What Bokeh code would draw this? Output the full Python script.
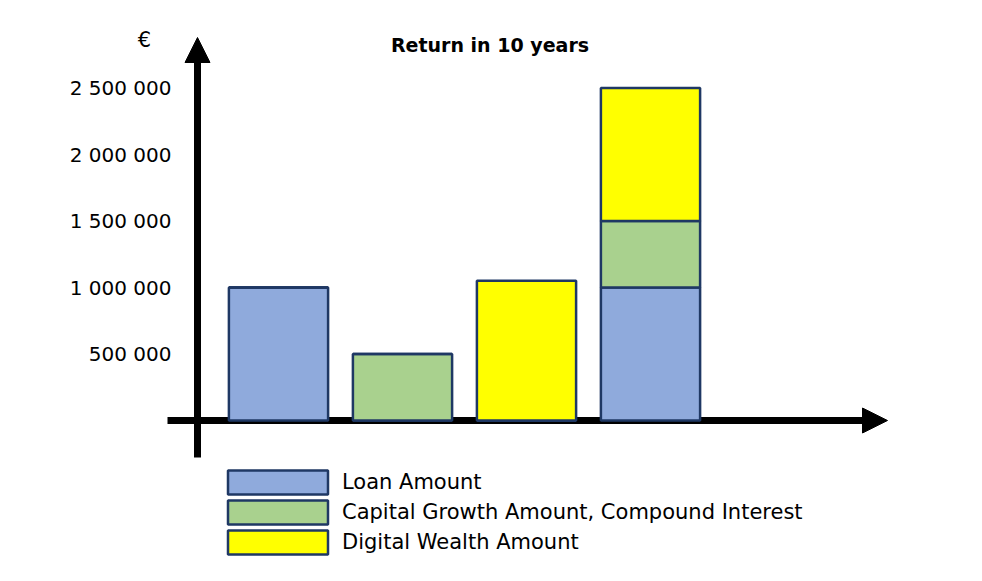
from bokeh.plotting import figure
from bokeh.models import ColumnDataSource, Legend, LegendItem, Arrow, NormalHead
from bokeh.core.properties import value
from bokeh.embed import file_html
from bokeh.resources import INLINE

# ---- data ----
positions = [1, 2, 3, 4]
loan_amount = [1_000_000, 0, 0, 1_000_000]
capital_growth = [0, 500_000, 0, 500_000]
digital_wealth = [0, 0, 1_050_000, 1_000_000]
series_names = ["Loan Amount", "Capital Growth Amount, Compound Interest", "Digital Wealth Amount"]
series_colors = ["#8FAADC", "#A9D18E", "#FFFF00"]
tick_values = [500_000, 1_000_000, 1_500_000, 2_000_000, 2_500_000]
tick_labels = ["500 000", "1 000 000", "1 500 000", "2 000 000", "2 500 000"]
title_text = "Return in 10 years"
unit_text = "€"

# ---- layout (pixels) ----
W, H = 966, 565
PX_PER_X = 124.0
X1_PX = 278.0            # px of first bar centre
ZERO_PY = 420.0          # px (from top) of value 0
PX_PER_MILLION = 133.0
U_PER_PX = 1_000_000 / PX_PER_MILLION

XS = positions[0] - X1_PX / PX_PER_X
XE = XS + W / PX_PER_X
YS = -(H - ZERO_PY) * U_PER_PX
YE = ZERO_PY * U_PER_PX


def sx(px):
    return XS + px / PX_PER_X


def sy(py):
    return (ZERO_PY - py) * U_PER_PX


p = figure(width=W, height=H, x_range=(XS, XE), y_range=(YS, YE),
           x_axis_type=None, y_axis_type=None, toolbar_location=None,
           output_backend="svg", min_border=0)
p.outline_line_color = None
p.background_fill_color = "white"
p.border_fill_color = "white"
p.xgrid.visible = False
p.ygrid.visible = False

# axes arrows
AX_COLOR = "black"
yax = Arrow(x_start=sx(197), y_start=sy(457), x_end=sx(197), y_end=sy(37),
            line_width=7, line_color=AX_COLOR,
            end=NormalHead(size=25, fill_color=AX_COLOR, line_color=AX_COLOR, line_width=1),
            level="underlay")
xax = Arrow(x_start=sx(167), y_start=0, x_end=sx(887), y_end=0,
            line_width=7, line_color=AX_COLOR,
            end=NormalHead(size=25, fill_color=AX_COLOR, line_color=AX_COLOR, line_width=1),
            level="underlay")
p.add_layout(yax)
p.add_layout(xax)

# bars
src = ColumnDataSource(dict(x=positions, loan=loan_amount, growth=capital_growth, digital=digital_wealth))
rs = p.vbar_stack(["loan", "growth", "digital"], x="x", width=0.8, source=src,
                  fill_color=series_colors, line_color="#1F3864", line_width=2.5)

# tick labels
tsrc = ColumnDataSource(dict(x=[sx(171)] * len(tick_values), y=tick_values, t=tick_labels))
p.text(x="x", y="y", text="t", source=tsrc, text_font=value("DejaVu Sans"),
       text_font_size="20px", text_align="right", text_baseline="middle", text_color="black")

# euro unit and title
p.text(x=[sx(144)], y=[sy(39)], text=[unit_text], text_font=value("DejaVu Sans"),
       text_font_size="21px", text_align="center", text_baseline="middle", text_color="black")
p.text(x=[sx(489.5)], y=[sy(44)], text=[title_text], text_font=value("DejaVu Sans"),
       text_font_style="bold", text_font_size="19px", text_align="center",
       text_baseline="middle", text_color="black")

# legend (box glyphs are drawn with a 10% inset, so enlarge the glyph area)
legend = Legend(items=[LegendItem(label=n, renderers=[r]) for n, r in zip(series_names, rs)],
                location=(215, 8), orientation="vertical",
                glyph_width=125, glyph_height=30, label_standoff=2, spacing=0,
                padding=0, margin=0, border_line_color=None, background_fill_alpha=0,
                label_text_font="DejaVu Sans", label_text_font_size="21px",
                label_text_color="black", label_height=30)
p.add_layout(legend)

open("out.html", "w").write(file_html(p, INLINE))
